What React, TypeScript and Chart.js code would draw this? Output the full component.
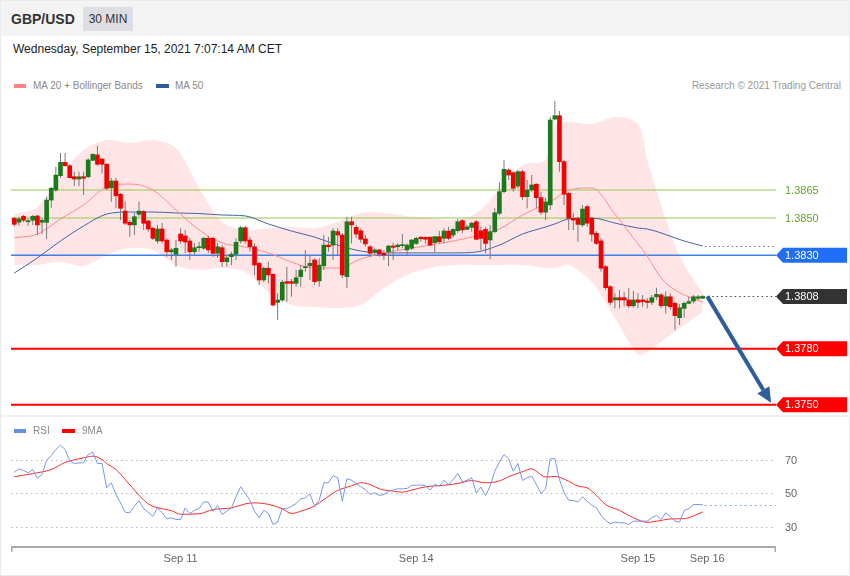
import { useEffect, useRef } from "react";
import { Chart, registerables } from "chart.js";

Chart.register(...registerables);

// ---------------- data ----------------
const OPEN = [
  1.38498, 1.38477, 1.38509, 1.3848, 1.38488, 1.38511, 1.38477, 1.38477, 1.38596, 1.3865,
  1.38727, 1.38798, 1.3878, 1.38721, 1.38709, 1.38721, 1.38721, 1.38809, 1.38838, 1.38816,
  1.38788, 1.38662, 1.38698, 1.38627, 1.38537, 1.38477, 1.38463, 1.3852, 1.38534, 1.38484,
  1.38445, 1.38377, 1.38441, 1.38382, 1.38319, 1.38306, 1.38414, 1.38404, 1.38377, 1.38319,
  1.38341, 1.38338, 1.38391, 1.38391, 1.38311, 1.38341, 1.38266, 1.38293, 1.38306, 1.38377,
  1.38448, 1.38382, 1.38346, 1.38257, 1.38168, 1.38231, 1.38198, 1.38048, 1.38061, 1.38159,
  1.38159, 1.3815, 1.38186, 1.38234, 1.38244, 1.38275, 1.38163, 1.38244, 1.38355, 1.38355,
  1.38427, 1.38409, 1.38186, 1.3848, 1.3845, 1.38432, 1.38388, 1.38346, 1.38318, 1.38329,
  1.38311, 1.38319, 1.3835, 1.38346, 1.38352, 1.38329, 1.38338, 1.38364, 1.38397, 1.38397,
  1.38397, 1.38368, 1.384, 1.38391, 1.3843, 1.38409, 1.38432, 1.38486, 1.38439, 1.3845,
  1.3848, 1.38432, 1.38439, 1.38382, 1.38427, 1.38525, 1.38641, 1.38757, 1.38743, 1.38671,
  1.38748, 1.38614, 1.3865, 1.38681, 1.38609, 1.38531, 1.3857, 1.3903, 1.39048, 1.38802,
  1.38632, 1.38498, 1.38498, 1.38463, 1.38561, 1.38498, 1.38418, 1.38377, 1.38239, 1.38132,
  1.38061, 1.38073, 1.38073, 1.38061, 1.3803, 1.38061, 1.38061, 1.38055, 1.38048, 1.38078,
  1.38088, 1.3803, 1.38078, 1.38043, 1.37966, 1.38016, 1.38043, 1.38055, 1.3807, 1.3807,
];
const HIGH = [
  1.38507, 1.38507, 1.38516, 1.38498, 1.38516, 1.38516, 1.38498, 1.38614, 1.38668, 1.38775,
  1.38848, 1.38848, 1.38789, 1.38748, 1.38748, 1.38748, 1.3882, 1.38847, 1.38886, 1.3882,
  1.38793, 1.38714, 1.38714, 1.38634, 1.38587, 1.38489, 1.38527, 1.38587, 1.38543, 1.38489,
  1.38453, 1.38463, 1.38473, 1.38391, 1.38338, 1.38382, 1.38445, 1.38436, 1.38394, 1.38366,
  1.38371, 1.384, 1.38404, 1.384, 1.38366, 1.38355, 1.38302, 1.38319, 1.38391, 1.38459,
  1.38459, 1.384, 1.38364, 1.38266, 1.38239, 1.38266, 1.38204, 1.38097, 1.38168, 1.38239,
  1.38173, 1.38221, 1.38248, 1.38329, 1.38302, 1.38284, 1.38284, 1.38409, 1.384, 1.38445,
  1.38445, 1.38418, 1.38507, 1.38507, 1.38463, 1.38445, 1.38409, 1.38355, 1.38338, 1.38332,
  1.38329, 1.38355, 1.38368, 1.38364, 1.38414, 1.38364, 1.38386, 1.384, 1.38404, 1.384,
  1.384, 1.38404, 1.38432, 1.38445, 1.38453, 1.38445, 1.38493, 1.38493, 1.38463, 1.3848,
  1.38489, 1.38453, 1.38453, 1.38463, 1.38552, 1.38694, 1.38811, 1.38766, 1.38748, 1.38757,
  1.38757, 1.38704, 1.3873, 1.38686, 1.38641, 1.38607, 1.39043, 1.39127, 1.39073, 1.38811,
  1.38641, 1.38525, 1.38507, 1.3857, 1.3857, 1.38507, 1.3843, 1.38394, 1.38248, 1.38141,
  1.38097, 1.38114, 1.38105, 1.38127, 1.38109, 1.38097, 1.38088, 1.3807, 1.38088, 1.38127,
  1.38097, 1.38105, 1.38097, 1.38052, 1.38038, 1.38052, 1.38078, 1.38088, 1.38088, 1.38088,
];
const LOW = [
  1.38453, 1.38459, 1.38477, 1.38459, 1.38463, 1.38409, 1.38414, 1.38388, 1.38554, 1.38641,
  1.38714, 1.38775, 1.38713, 1.38671, 1.38671, 1.38623, 1.38713, 1.38805, 1.3878, 1.38739,
  1.3865, 1.38587, 1.38554, 1.38489, 1.38463, 1.384, 1.38409, 1.38507, 1.38436, 1.38427,
  1.38382, 1.38364, 1.38364, 1.38293, 1.38275, 1.38239, 1.38364, 1.38313, 1.38275, 1.38302,
  1.38319, 1.38329, 1.38313, 1.38293, 1.38286, 1.38239, 1.38239, 1.38248, 1.38275, 1.38364,
  1.38364, 1.38319, 1.38195, 1.38141, 1.38156, 1.3815, 1.38025, 1.37954, 1.38052, 1.38052,
  1.38078, 1.38132, 1.38132, 1.38212, 1.38168, 1.38141, 1.38132, 1.38221, 1.38319, 1.38275,
  1.38302, 1.38177, 1.38123, 1.38364, 1.38391, 1.38368, 1.38346, 1.38293, 1.38302, 1.38293,
  1.38275, 1.38243, 1.38275, 1.38329, 1.38338, 1.38302, 1.38329, 1.38355, 1.38373, 1.38364,
  1.3835, 1.38319, 1.38364, 1.38364, 1.38382, 1.38397, 1.38421, 1.38418, 1.38436, 1.38427,
  1.38382, 1.38329, 1.38311, 1.38279, 1.38418, 1.38516, 1.38632, 1.38704, 1.38641, 1.38659,
  1.38596, 1.38552, 1.38641, 1.38552, 1.38516, 1.38489, 1.38543, 1.39025, 1.38748, 1.3857,
  1.38436, 1.38436, 1.38373, 1.38453, 1.38453, 1.38373, 1.38355, 1.38212, 1.38114, 1.38034,
  1.38016, 1.38016, 1.38025, 1.38016, 1.38019, 1.38016, 1.38025, 1.38016, 1.38034, 1.38061,
  1.38016, 1.37989, 1.38007, 1.379, 1.37927, 1.37966, 1.38038, 1.38043, 1.38061, 1.38066,
];
const CLOSE = [
  1.38466, 1.38495, 1.38488, 1.38484, 1.38509, 1.38463, 1.38488, 1.38596, 1.38659, 1.3873,
  1.38798, 1.3878, 1.38716, 1.38709, 1.38721, 1.38713, 1.38811, 1.38841, 1.38788, 1.38788,
  1.38659, 1.38698, 1.38619, 1.38552, 1.38472, 1.38463, 1.38507, 1.38537, 1.38472, 1.38441,
  1.38391, 1.38441, 1.38377, 1.38319, 1.38329, 1.38338, 1.38377, 1.38371, 1.38319, 1.38341,
  1.38346, 1.38391, 1.38329, 1.38311, 1.38346, 1.38266, 1.38287, 1.38306, 1.3837, 1.38448,
  1.38377, 1.38346, 1.38248, 1.38168, 1.38231, 1.38195, 1.38034, 1.38061, 1.38156, 1.3815,
  1.3815, 1.3818, 1.38221, 1.38239, 1.38257, 1.38159, 1.38248, 1.38355, 1.38346, 1.3843,
  1.38409, 1.38195, 1.3848, 1.38463, 1.38414, 1.38386, 1.38361, 1.38311, 1.38329, 1.38307,
  1.38302, 1.3835, 1.38343, 1.38355, 1.38355, 1.38355, 1.38382, 1.38391, 1.38389, 1.38386,
  1.38355, 1.384, 1.38373, 1.3843, 1.38391, 1.38439, 1.3848, 1.38436, 1.38453, 1.38472,
  1.38386, 1.38391, 1.38364, 1.38427, 1.38528, 1.38641, 1.38761, 1.3873, 1.38659, 1.38748,
  1.38614, 1.3865, 1.38677, 1.38609, 1.38531, 1.38586, 1.39025, 1.39048, 1.38802, 1.38627,
  1.38498, 1.38489, 1.38466, 1.38548, 1.38472, 1.38413, 1.38364, 1.38231, 1.38127, 1.38048,
  1.38073, 1.38061, 1.38061, 1.3803, 1.38061, 1.38048, 1.38052, 1.38048, 1.38073, 1.38091,
  1.3803, 1.38078, 1.38025, 1.37977, 1.38019, 1.38043, 1.38052, 1.38078, 1.38078, 1.3808,
];

// indicator samples (candle index -> value)
const BAND_IDX = [
  0, 5, 10, 15, 20, 25, 30, 35, 40, 45, 50, 55, 60, 65, 70, 75, 80, 85, 90, 95, 100, 105, 110, 115,
  117, 120, 125, 130, 135, 137, 140, 143, 145, 149,
];
const BB_UPPER = [
  1.38521, 1.38559, 1.3873, 1.38864, 1.38918, 1.38902, 1.38918, 1.38875, 1.38661, 1.38479, 1.38436,
  1.38446, 1.38452, 1.38446, 1.38479, 1.38527, 1.38527, 1.38511, 1.385, 1.38489, 1.38527, 1.3865,
  1.38784, 1.38811, 1.38998, 1.39014, 1.39004, 1.39041, 1.39004, 1.38811, 1.3857, 1.38355, 1.38248,
  1.38098,
];
const BB_LOWER = [
  1.38248, 1.38248, 1.38264, 1.38243, 1.38302, 1.38339, 1.38329, 1.38248, 1.38221, 1.38232, 1.38211,
  1.38104, 1.38034, 1.38023, 1.38018, 1.38034, 1.38125, 1.38195, 1.38232, 1.38248, 1.38248, 1.38248,
  1.38248, 1.38232, 1.38232, 1.38248, 1.38157, 1.37964, 1.37766, 1.37782, 1.37836, 1.37889, 1.37927,
  1.37996,
];
const MA20 = [
  1.38394, 1.38414, 1.38495, 1.3857, 1.38666, 1.38682, 1.3865, 1.38543, 1.38436, 1.38366, 1.38345,
  1.38313, 1.38264, 1.38232, 1.38232, 1.3828, 1.38313, 1.38334, 1.38355, 1.38377, 1.38404, 1.38441,
  1.38516, 1.38575, 1.38602, 1.3865, 1.38661, 1.38521, 1.38361, 1.38296, 1.38179, 1.38114, 1.38088,
  1.3805,
];
const MA50 = [
  1.38205, 1.38286, 1.38377, 1.38457, 1.38521, 1.38532, 1.38532, 1.38527, 1.38524, 1.38516, 1.38511,
  1.38468, 1.3843, 1.38398, 1.38355, 1.38323, 1.38313, 1.38313, 1.38313, 1.38313, 1.38318, 1.38355,
  1.38414, 1.38452, 1.38468, 1.38495, 1.385, 1.38473, 1.38446, 1.38441, 1.3842, 1.38393, 1.38377,
  1.3835,
];

const RSI = [
  62.7, 64.7, 63.7, 62.4, 64.3, 59.0, 61.3, 69.7, 72.7, 76.3,
  78.8, 76.3, 69.3, 67.9, 68.3, 68.3, 73.3, 74.7, 67.9, 67.9,
  53.4, 56.4, 49.4, 44.4, 38.8, 38.5, 42.4, 45.8, 40.9, 38.8,
  36.4, 41.4, 38.5, 34.9, 35.5, 34.5, 34.5, 41.4, 37.9, 40.0,
  41.0, 45.0, 44.8, 39.4, 42.8, 37.5, 39.4, 41.4, 48.0, 54.0,
  50.0, 46.0, 39.4, 35.5, 40.0, 38.1, 31.5, 32.9, 41.0, 40.9,
  42.4, 44.0, 46.8, 47.4, 49.8, 42.4, 46.0, 56.4, 56.4, 60.7,
  59.4, 45.4, 58.8, 57.9, 56.0, 54.0, 52.4, 49.4, 50.4, 48.8,
  49.4, 51.4, 52.0, 52.8, 52.8, 53.0, 54.8, 55.0, 55.0, 54.8,
  52.0, 55.4, 54.4, 57.9, 55.4, 58.4, 61.9, 57.0, 57.9, 59.4,
  50.4, 53.8, 48.8, 54.4, 63.3, 68.7, 73.3, 70.7, 63.3, 67.9,
  57.8, 59.4, 60.3, 55.4, 50.0, 52.8, 70.7, 70.9, 58.4, 50.4,
  46.0, 45.8, 45.0, 48.0, 45.4, 43.0, 41.4, 36.9, 33.9, 31.9,
  32.9, 32.5, 32.5, 31.5, 33.5, 33.5, 33.5, 33.5, 35.5, 36.9,
  34.5, 38.5, 36.1, 33.5, 32.9, 39.9, 40.9, 43.4, 43.4, 43.4,
];
const MA9_IDX = [
  0, 4, 8, 11, 15, 17, 19, 20, 22, 24, 27, 29, 31, 34, 36, 40, 43, 47, 50, 52, 55, 58, 60, 62, 65,
  67, 70, 73, 75, 77, 79, 82, 84, 86, 89, 93, 96, 99, 102, 105, 107, 110, 112, 113, 115, 117, 120,
  122, 124, 126, 128, 131, 134, 137, 139, 142, 145, 147, 149,
];
const MA9 = [
  60.0, 61.9, 64.3, 68.5, 71.3, 72.3, 70.3, 67.9, 64.3, 58.4, 49.0, 43.8, 41.5, 39.8, 37.6, 37.9,
  40.4, 41.4, 43.8, 44.4, 43.5, 40.9, 38.1, 39.4, 42.6, 46.4, 51.8, 54.6, 56.4, 55.4, 52.8, 51.4,
  50.8, 52.0, 54.0, 54.9, 56.0, 57.7, 56.4, 57.5, 60.1, 63.0, 64.7, 63.3, 59.8, 60.2, 57.3, 54.4,
  53.4, 48.8, 43.4, 39.9, 35.5, 32.8, 33.4, 34.8, 35.0, 36.6, 39.0,
];

const LEVELS = [1.3865, 1.385, 1.383, 1.3808, 1.378, 1.375];
const LEVEL_LABELS = ["1.3865", "1.3850", "1.3830", "1.3808", "1.3780", "1.3750"];
const LAST_PRICE = 1.3808;
const TARGET_PRICE = 1.3751;
const ARROW_IDX = [150, 163.8];
const RSI_LEVELS = [70, 50, 30];
const DATE_IDX = [36, 87, 135, 150];
const DATE_LABELS = ["Sep 11", "Sep 14", "Sep 15", "Sep 16"];

// ---------------- scale extents / styles ----------------
const X_MIN = -0.71;
const X_MAX = 164.87;
const Y_MIN = 1.374393;
const Y_MAX = 1.39175;
const RSI_MIN = 18.06;
const RSI_MAX = 81.94;
const FONT = '"Liberation Sans", Arial, Helvetica, sans-serif';

const LEVEL_STYLES = [
  { line: "#93c952", width: 1, box: "", text: "#5ea52a" },
  { line: "#93c952", width: 1, box: "", text: "#5ea52a" },
  { line: "#3f7fe8", width: 1.5, box: "#1f6ef5", text: "#ffffff" },
  { line: "", width: 0, box: "#333333", text: "#ffffff" },
  { line: "#ff0000", width: 2, box: "#ff0000", text: "#ffffff" },
  { line: "#ff0000", width: 2, box: "#ff0000", text: "#ffffff" },
];

function drawTag(ctx: CanvasRenderingContext2D, left: number, right: number, yc: number, color: string) {
  const half = 7.5;
  ctx.beginPath();
  ctx.moveTo(left, yc);
  ctx.lineTo(left + 7, yc - half);
  ctx.lineTo(right, yc - half);
  ctx.lineTo(right, yc + half);
  ctx.lineTo(left + 7, yc + half);
  ctx.closePath();
  ctx.fillStyle = color;
  ctx.fill();
}

export default function App() {
  const mainRef = useRef<HTMLCanvasElement | null>(null);
  const rsiRef = useRef<HTMLCanvasElement | null>(null);

  useEffect(() => {
    document.body.style.margin = "0";
    const candleColors = OPEN.map((o, i) => (CLOSE[i] >= o ? "#1b7a1b" : "#f20000"));

    const mainOverlay = {
      id: "mainOverlay",
      afterDatasetDraw(chart: any, args: any) {
        if (args.index !== 4) return;
        const { ctx, chartArea, scales } = chart;
        ctx.save();
        LEVELS.forEach((lv, k) => {
          const st = LEVEL_STYLES[k];
          if (!st.line) return;
          const y = scales.y.getPixelForValue(lv);
          ctx.strokeStyle = st.line;
          ctx.lineWidth = st.width;
          ctx.beginPath();
          ctx.moveTo(chartArea.left, y);
          ctx.lineTo(chartArea.right, y);
          ctx.stroke();
        });
        ctx.restore();
      },
      afterDraw(chart: any) {
        const { ctx, chartArea, scales } = chart;
        const xs = scales.x;
        const ys = scales.y;
        ctx.save();
        // dotted extensions
        ctx.lineWidth = 1;
        ctx.setLineDash([1.5, 3]);
        const maY = ys.getPixelForValue(MA50[MA50.length - 1]);
        ctx.strokeStyle = "#6b7590";
        ctx.beginPath();
        ctx.moveTo(xs.getPixelForValue(BAND_IDX[BAND_IDX.length - 1]) + 2, Math.round(maY) + 0.5);
        ctx.lineTo(chartArea.right, Math.round(maY) + 0.5);
        ctx.stroke();
        const lpY = ys.getPixelForValue(LAST_PRICE);
        ctx.strokeStyle = "#444";
        ctx.beginPath();
        ctx.moveTo(xs.getPixelForValue(OPEN.length - 1) + 5, Math.round(lpY) + 0.5);
        ctx.lineTo(chartArea.right, Math.round(lpY) + 0.5);
        ctx.stroke();
        ctx.setLineDash([]);

        // arrow
        const x1 = xs.getPixelForValue(ARROW_IDX[0]);
        const y1 = ys.getPixelForValue(LAST_PRICE);
        const x2 = xs.getPixelForValue(ARROW_IDX[1]);
        const y2 = ys.getPixelForValue(TARGET_PRICE);
        const ang = Math.atan2(y2 - y1, x2 - x1);
        const hl = 15;
        const hw = 7;
        const bx = x2 - hl * Math.cos(ang);
        const by = y2 - hl * Math.sin(ang);
        ctx.strokeStyle = "#2f5d9c";
        ctx.fillStyle = "#2f5d9c";
        ctx.lineWidth = 4;
        ctx.beginPath();
        ctx.moveTo(x1, y1);
        ctx.lineTo(bx, by);
        ctx.stroke();
        ctx.beginPath();
        ctx.moveTo(x2, y2);
        ctx.lineTo(bx + hw * Math.sin(ang), by - hw * Math.cos(ang));
        ctx.lineTo(bx - hw * Math.sin(ang), by + hw * Math.cos(ang));
        ctx.closePath();
        ctx.fill();

        // tags
        ctx.font = "11px " + FONT;
        ctx.textBaseline = "middle";
        ctx.textAlign = "left";
        LEVELS.forEach((lv, k) => {
          const st = LEVEL_STYLES[k];
          const y = ys.getPixelForValue(lv);
          if (st.box) drawTag(ctx, chartArea.right, chart.width - 3, y, st.box);
          ctx.fillStyle = st.text;
          ctx.fillText(LEVEL_LABELS[k], chartArea.right + 9, y + 0.5);
        });
        ctx.restore();
      },
    };

    const main = new Chart(mainRef.current as HTMLCanvasElement, {
      type: "bar",
      data: {
        datasets: [
          {
            type: "bar",
            data: OPEN.map((o, i) => ({ x: i, y: [o, CLOSE[i]] })) as any,
            backgroundColor: candleColors,
            borderWidth: 0,
            barThickness: 4,
            minBarLength: 1,
            grouped: false,
            order: 0,
          } as any,
          {
            type: "bar",
            data: LOW.map((l, i) => ({ x: i, y: [l, HIGH[i]] })) as any,
            backgroundColor: "#7a7a7a",
            borderWidth: 0,
            barThickness: 1,
            inflateAmount: 0,
            grouped: false,
            order: 1,
          } as any,
          {
            type: "line",
            data: BAND_IDX.map((x, k) => ({ x, y: MA20[k] })) as any,
            borderColor: "#ff8c8c",
            borderWidth: 1,
            pointRadius: 0,
            cubicInterpolationMode: "monotone",
            fill: false,
            order: 2,
          } as any,
          {
            type: "line",
            data: BAND_IDX.map((x, k) => ({ x, y: MA50[k] })) as any,
            borderColor: "#4066a8",
            borderWidth: 1,
            pointRadius: 0,
            cubicInterpolationMode: "monotone",
            fill: false,
            order: 3,
          } as any,
          {
            type: "line",
            data: BAND_IDX.map((x, k) => ({ x, y: BB_UPPER[k] })) as any,
            borderColor: "rgba(0,0,0,0)",
            borderWidth: 0,
            pointRadius: 0,
            tension: 0.3,
            fill: "+1",
            backgroundColor: "rgba(255,160,160,0.28)",
            order: 4,
          } as any,
          {
            type: "line",
            data: BAND_IDX.map((x, k) => ({ x, y: BB_LOWER[k] })) as any,
            borderColor: "rgba(0,0,0,0)",
            borderWidth: 0,
            pointRadius: 0,
            tension: 0.3,
            fill: false,
            order: 5,
          } as any,
        ],
      },
      options: {
        responsive: false,
        animation: false,
        layout: { padding: { left: 11, right: 74, top: 0, bottom: 0 } },
        plugins: { legend: { display: false }, tooltip: { enabled: false } },
        scales: {
          x: { type: "linear", min: X_MIN, max: X_MAX, display: false, offset: false },
          y: { type: "linear", min: Y_MIN, max: Y_MAX, display: false },
        },
      } as any,
      plugins: [mainOverlay as any],
    });

    const rsiOverlay = {
      id: "rsiOverlay",
      beforeDatasetsDraw(chart: any) {
        const { ctx, chartArea, scales } = chart;
        ctx.save();
        ctx.strokeStyle = "#b8b8b8";
        ctx.lineWidth = 1;
        ctx.setLineDash([1.5, 3.5]);
        RSI_LEVELS.forEach((v) => {
          const y = Math.round(scales.y.getPixelForValue(v)) + 0.5;
          ctx.beginPath();
          ctx.moveTo(chartArea.left, y);
          ctx.lineTo(chartArea.right, y);
          ctx.stroke();
        });
        ctx.restore();
      },
      afterDraw(chart: any) {
        const { ctx, chartArea, scales } = chart;
        const xs = scales.x;
        const ys = scales.y;
        ctx.save();
        // RSI continuation
        const ly = Math.round(ys.getPixelForValue(RSI[RSI.length - 1])) + 0.5;
        ctx.strokeStyle = "#8fa8f0";
        ctx.lineWidth = 1.2;
        ctx.setLineDash([2, 3]);
        ctx.beginPath();
        ctx.moveTo(xs.getPixelForValue(RSI.length - 1) + 2, ly);
        ctx.lineTo(chartArea.right, ly);
        ctx.stroke();
        ctx.setLineDash([]);
        // level labels
        ctx.font = "11px " + FONT;
        ctx.fillStyle = "#666";
        ctx.textBaseline = "middle";
        ctx.textAlign = "left";
        RSI_LEVELS.forEach((v) => {
          ctx.fillText(String(v), chartArea.right + 9, ys.getPixelForValue(v) + 0.5);
        });
        // axis
        const ay = chartArea.bottom;
        ctx.strokeStyle = "#a9a9a9";
        ctx.lineWidth = 2;
        ctx.beginPath();
        ctx.moveTo(chartArea.left, ay);
        ctx.lineTo(chartArea.right, ay);
        ctx.stroke();
        ctx.lineWidth = 1.5;
        ctx.beginPath();
        ctx.moveTo(chartArea.left + 0.75, ay);
        ctx.lineTo(chartArea.left + 0.75, ay + 5);
        ctx.moveTo(chartArea.right - 0.75, ay);
        ctx.lineTo(chartArea.right - 0.75, ay + 5);
        ctx.stroke();
        ctx.textAlign = "center";
        DATE_IDX.forEach((d, k) => {
          ctx.fillText(DATE_LABELS[k], xs.getPixelForValue(d), ay + 12);
        });
        ctx.restore();
      },
    };

    const rsi = new Chart(rsiRef.current as HTMLCanvasElement, {
      type: "line",
      data: {
        datasets: [
          {
            data: RSI.map((v, i) => ({ x: i, y: v })) as any,
            borderColor: "#7896ee",
            borderWidth: 1,
            pointRadius: 0,
            tension: 0,
            fill: false,
          },
          {
            data: MA9_IDX.map((x, k) => ({ x, y: MA9[k] })) as any,
            borderColor: "#ff2a2a",
            borderWidth: 1,
            pointRadius: 0,
            cubicInterpolationMode: "monotone",
            fill: false,
          },
        ],
      },
      options: {
        responsive: false,
        animation: false,
        layout: { padding: { left: 11, right: 74, top: 23, bottom: 28 } },
        plugins: { legend: { display: false }, tooltip: { enabled: false } },
        scales: {
          x: { type: "linear", min: X_MIN, max: X_MAX, display: false },
          y: { type: "linear", min: RSI_MIN, max: RSI_MAX, display: false },
        },
      } as any,
      plugins: [rsiOverlay as any],
    });

    return () => {
      main.destroy();
      rsi.destroy();
    };
  }, []);

  const legendText: any = { position: "absolute", fontSize: 10, color: "#8a8a8a", lineHeight: "12px" };

  return (
    <div
      style={{
        position: "absolute",
        left: 0,
        top: 0,
        width: 850,
        height: 576,
        background: "#fff",
        fontFamily: FONT,
        overflow: "hidden",
      }}
    >
      <div style={{ position: "absolute", left: 0, top: 0, width: 850, height: 36, background: "#f4f4f4" }} />
      <div style={{ position: "absolute", left: 11, top: 10, fontSize: 14, fontWeight: "bold", color: "#333", lineHeight: "18px" }}>
        GBP/USD
      </div>
      <div
        style={{
          position: "absolute",
          left: 83,
          top: 7,
          width: 50,
          height: 24,
          background: "#dcdee3",
          color: "#333",
          fontSize: 12,
          lineHeight: "24px",
          textAlign: "center",
        }}
      >
        30 MIN
      </div>
      <div style={{ position: "absolute", left: 13, top: 41, fontSize: 12, color: "#222", lineHeight: "16px" }}>
        Wednesday, September 15, 2021 7:07:14 AM CET
      </div>

      <div style={{ position: "absolute", left: 14, top: 84, width: 12, height: 4, background: "#ff8080" }} />
      <div style={{ ...legendText, left: 33, top: 80 }}>MA 20 + Bollinger Bands</div>
      <div style={{ position: "absolute", left: 156, top: 84, width: 13, height: 4, background: "#2e5c9e" }} />
      <div style={{ ...legendText, left: 175, top: 80 }}>MA 50</div>
      <div style={{ ...legendText, right: 9, top: 80, color: "#9a9a9a" }}>Research © 2021 Trading Central</div>

      <div style={{ position: "absolute", left: 0, top: 92, width: 850, height: 324 }}>
        <canvas ref={mainRef} width={850} height={324} style={{ display: "block" }} />
      </div>

      <div style={{ position: "absolute", left: 0, top: 415, width: 850, height: 2, background: "#eef0f3" }} />

      <div style={{ position: "absolute", left: 14, top: 429, width: 12, height: 4, background: "#6a8de8" }} />
      <div style={{ ...legendText, left: 33, top: 425 }}>RSI</div>
      <div style={{ position: "absolute", left: 62, top: 429, width: 13, height: 4, background: "#ff0000" }} />
      <div style={{ ...legendText, left: 82, top: 425 }}>9MA</div>

      <div style={{ position: "absolute", left: 0, top: 417, width: 850, height: 158 }}>
        <canvas ref={rsiRef} width={850} height={158} style={{ display: "block" }} />
      </div>

      <div
        style={{
          position: "absolute",
          left: 0,
          top: 0,
          width: 850,
          height: 576,
          boxSizing: "border-box",
          border: "1px solid #e9ecef",
          pointerEvents: "none",
        }}
      />
    </div>
  );
}
